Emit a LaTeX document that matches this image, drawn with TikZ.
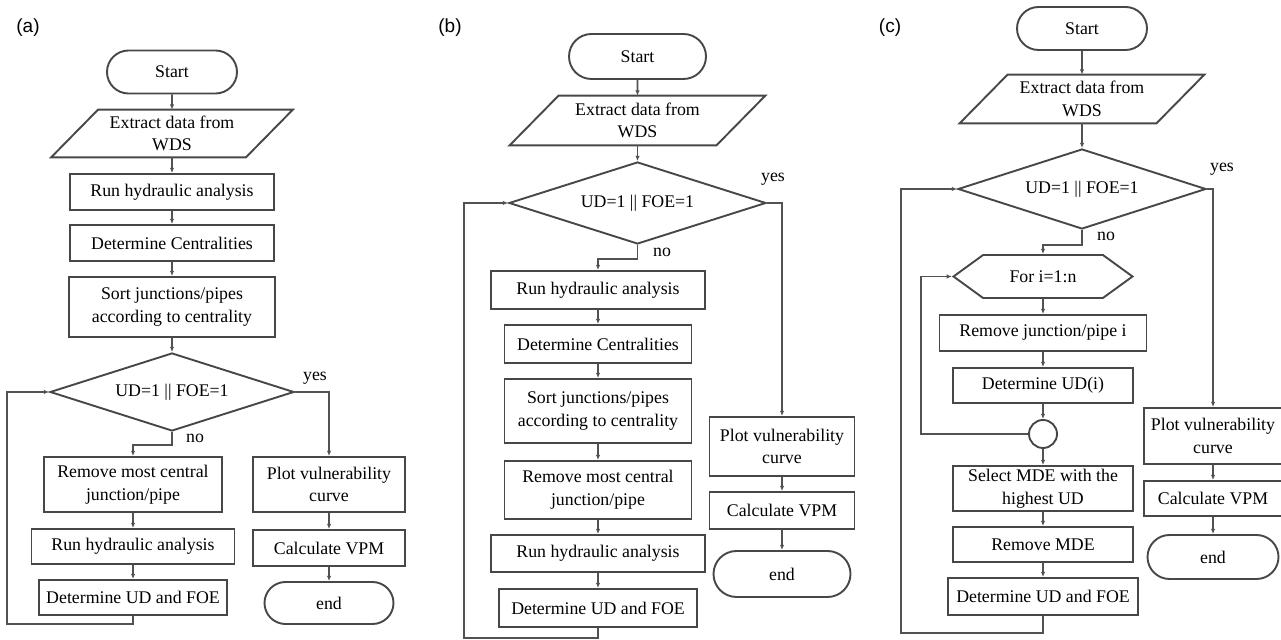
\documentclass[tikz,border=0pt]{standalone}
\usepackage{fontspec}
\setmainfont{Liberation Serif}
\newfontfamily\tagfont{Liberation Sans}
\usetikzlibrary{arrows.meta,positioning,shapes.geometric,shapes.misc,shapes.symbols}

\begin{document}
\begin{tikzpicture}[
    x=0.5pt, y=-0.5pt,
    font=\fontsize{8.9}{11.3}\selectfont,
    edge/.style={draw=black!72, line width=0.95pt},
    line/.style={draw=black!68, line width=0.9pt, -{Latex[length=2.6pt,width=2.2pt]}},
    shp/.style 2 args={edge, inner sep=0, align=center, text=black,
        minimum width=#1*0.5pt, minimum height=#2*0.5pt},
    proc/.style 2 args={rectangle, shp={#1}{#2}},
    term/.style 2 args={rounded rectangle, shp={#1}{#2}},
    data/.style 2 args={rectangle, inner sep=0, align=center, text=black,
        minimum width=#1*0.5pt, minimum height=#2*0.5pt,
        append after command={\pgfextra{\draw[edge]
            ([xshift=#2*0.25pt]\tikzlastnode.north west) -- ([xshift=#2*0.25pt]\tikzlastnode.north east)
            -- ([xshift=-#2*0.25pt]\tikzlastnode.south east) -- ([xshift=-#2*0.25pt]\tikzlastnode.south west)
            -- cycle;}}},
    cond/.style 2 args={diamond, shape aspect=3.1, shp={#1}{#2}},
    loophex/.style 2 args={signal, signal to=west and east, signal pointer angle=72, shp={#1}{#2}},
    joint/.style={circle, shp={28}{28}},
    lbl/.style={inner sep=0, text=black},
    panel/.style={inner sep=0, text=black, font=\tagfont\fontsize{9.5}{11}\selectfont}]
\useasboundingbox (0,0) rectangle (1281,640);

% (a)
\node[panel] (a-tag) at (28,28) {(a)};
\node[term={130}{43}]  (a-start) at (172,72)    {Start};
\node[data={194}{47}]  (a-io)    at (172,133.5) {Extract data from\\WDS};
\node[proc={204}{36}]  (a-run)   at (172,192)   {Run hydraulic analysis};
\node[proc={204}{36}]  (a-cent)  at (172,243)   {Determine Centralities};
\node[proc={206}{60}]  (a-sort)  at (172,307)   {Sort junctions/pipes\\according to centrality};
\node[cond={244}{78}]  (a-dec)   at (172,392)   {UD=1 || FOE=1};
\node[proc={178}{55}]  (a-rem)   at (133,484.5) {Remove most central\\junction/pipe};
\node[proc={203}{35}]  (a-run2)  at (133,546.5) {Run hydraulic analysis};
\node[proc={188}{35}]  (a-det)   at (133,597.5) {Determine UD and FOE};
\node[proc={152}{55}]  (a-plot)  at (329,484.5) {Plot vulnerability\\curve};
\node[proc={152}{36}]  (a-calc)  at (329,548)   {Calculate VPM};
\node[term={129}{42}]  (a-end)   at (329,603)   {end};
\node[lbl] (a-yes) at (315,378) {yes};
\node[lbl] (a-no)  at (195,438) {no};
\coordinate (a-back) at (7,624);

\draw[line] (a-start) -- (a-io);
\draw[line] (a-io) -- (a-run);
\draw[line] (a-run) -- (a-cent);
\draw[line] (a-cent) -- (a-sort);
\draw[line] (a-sort) -- (a-dec);
\draw[line] (a-dec.south) -- ++(0,13) -| (a-rem.north);
\draw[line] (a-rem) -- (a-run2);
\draw[line] (a-run2) -- (a-det);
\draw[line] (a-det.south) |- (a-back) |- (a-dec.west);
\draw[line] (a-dec.east) -| (a-plot.north);
\draw[line] (a-plot) -- (a-calc);
\draw[line] (a-calc) -- (a-end);

% (b)
\node[panel] (b-tag) at (450,28) {(b)};
\node[term={137}{45}]  (b-start) at (637.5,56.5) {Start};
\node[data={206}{49}]  (b-io)    at (637.5,120.5) {Extract data from\\WDS};
\node[cond={257}{82}]  (b-dec)   at (637.5,203)  {UD=1 || FOE=1};
\node[proc={214}{38}]  (b-run)   at (598,290)    {Run hydraulic analysis};
\node[proc={187}{38}]  (b-cent)  at (598,344)    {Determine Centralities};
\node[proc={187}{64}]  (b-sort)  at (598,411)    {Sort junctions/pipes\\according to centrality};
\node[proc={187}{58}]  (b-rem)   at (598,490)    {Remove most central\\junction/pipe};
\node[proc={214}{37}]  (b-run2)  at (598,553.5)  {Run hydraulic analysis};
\node[proc={198}{38}]  (b-det)   at (598,608)    {Determine UD and FOE};
\node[proc={145}{59}]  (b-plot)  at (782,446.5)  {Plot vulnerability\\curve};
\node[proc={145}{37}]  (b-calc)  at (782,510.5)  {Calculate VPM};
\node[term={137}{46}]  (b-end)   at (782,574)    {end};
\node[lbl] (b-yes) at (773,179) {yes};
\node[lbl] (b-no)  at (662,252) {no};
\coordinate (b-back) at (464,638);

\draw[line] (b-start) -- (b-io);
\draw[line] (b-io) -- (b-dec);
\draw[line] (b-dec.south) -- ++(0,14) -| (b-run.north);
\draw[line] (b-run) -- (b-cent);
\draw[line] (b-cent) -- (b-sort);
\draw[line] (b-sort) -- (b-rem);
\draw[line] (b-rem) -- (b-run2);
\draw[line] (b-run2) -- (b-det);
\draw[line] (b-det.south) |- (b-back) |- (b-dec.west);
\draw[line] (b-dec.east) -| (b-plot.north);
\draw[line] (b-plot) -- (b-calc);
\draw[line] (b-calc) -- (b-end);

% (c)
\node[panel] (c-tag) at (890,28) {(c)};
\node[term={130}{43}]    (c-start) at (1082,28.5)  {Start};
\node[data={196}{48}]    (c-io)    at (1082,99)    {Extract data from\\WDS};
\node[cond={248}{80}]    (c-dec)   at (1082,189)   {UD=1 || FOE=1};
\node[loophex={179}{43}] (c-for)   at (1043,276.5) {For i=1:n};
\node[proc={207}{36}]    (c-rmi)   at (1043,333)   {Remove junction/pipe i};
\node[proc={180}{35}]    (c-udi)   at (1043,385.5) {Determine UD(i)};
\node[joint]             (c-join)  at (1043,434)   {};
\node[proc={180}{45}]    (c-sel)   at (1043,488.5) {Select MDE with the\\highest UD};
\node[proc={180}{35}]    (c-rmde)  at (1043,544.5) {Remove MDE};
\node[proc={190}{37}]    (c-det)   at (1043,596.5) {Determine UD and FOE};
\node[proc={138}{56}]    (c-plot)  at (1213,436)   {Plot vulnerability\\curve};
\node[proc={138}{35}]    (c-calc)  at (1213,498.5) {Calculate VPM};
\node[term={131}{44}]    (c-end)   at (1213,557)   {end};
\node[lbl] (c-yes) at (1222,169) {yes};
\node[lbl] (c-no)  at (1106,236) {no};
\coordinate (c-inner) at (921,434);
\coordinate (c-back) at (901,633);

\draw[line] (c-start) -- (c-io);
\draw[line] (c-io) -- (c-dec);
\draw[line] (c-dec.south) -- ++(0,15) -| (c-for.north);
\draw[line] (c-for) -- (c-rmi);
\draw[line] (c-rmi) -- (c-udi);
\draw[line] (c-udi) -- (c-join);
\draw[line] (c-join.west) -- (c-inner) |- (c-for.west);
\draw[line] (c-join) -- (c-sel);
\draw[line] (c-sel) -- (c-rmde);
\draw[line] (c-rmde) -- (c-det);
\draw[line] (c-det.south) |- (c-back) |- (c-dec.west);
\draw[line] (c-dec.east) -| (c-plot.north);
\draw[line] (c-plot) -- (c-calc);
\draw[line] (c-calc) -- (c-end);

\end{tikzpicture}
\end{document}
